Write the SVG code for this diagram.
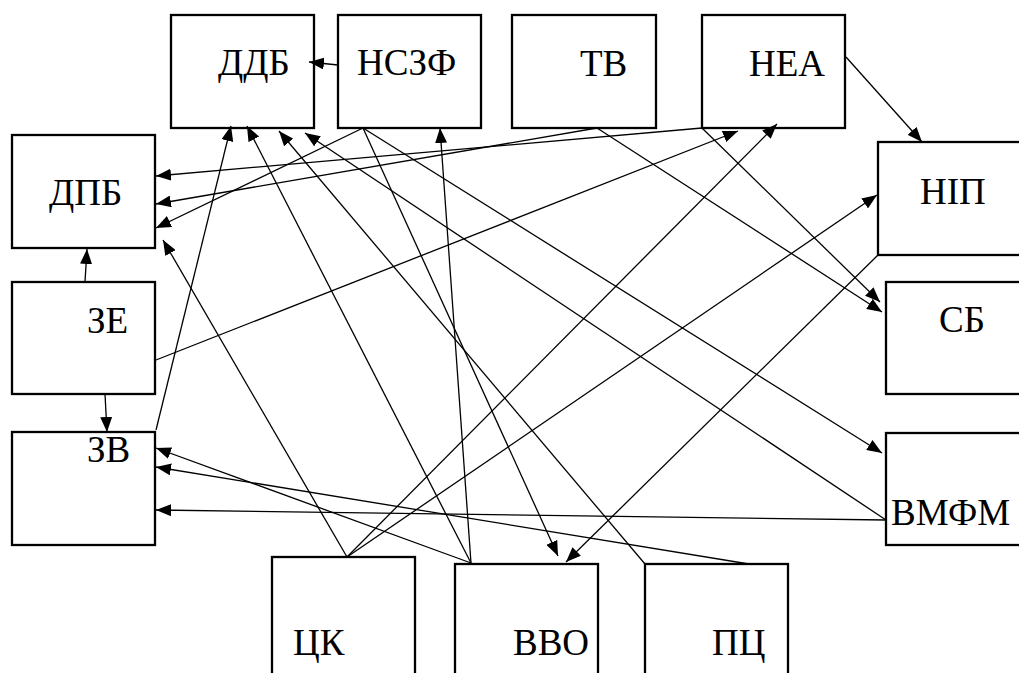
<svg xmlns="http://www.w3.org/2000/svg" width="1019" height="673" viewBox="0 0 1019 673">
<defs>
<style>
.box{fill:#fff;stroke:#000;stroke-width:2.3}
.edge{stroke:#000;stroke-width:1.3;fill:none;marker-end:url(#arr)}
</style>
<marker id="arr" markerUnits="userSpaceOnUse" markerWidth="16" markerHeight="12" refX="15" refY="6" orient="auto">
<path d="M0,0 L15,6 L0,12 z" fill="#000"/>
</marker>
</defs>
<rect width="1019" height="673" fill="#fff"/>
<g font-family="Liberation Serif, Times New Roman, DejaVu Serif, serif" font-size="37" fill="#000">
<g id="n-ddb"><rect class="box" x="171" y="15" width="143" height="113"/><text x="218" y="75">ДДБ</text></g>
<g id="n-nszf"><rect class="box" x="338" y="15" width="143" height="113"/><text x="357" y="75">НСЗФ</text></g>
<g id="n-tv"><rect class="box" x="512" y="15" width="144" height="113"/><text x="580" y="76">ТВ</text></g>
<g id="n-nea"><rect class="box" x="702" y="15" width="143" height="113"/><text x="749" y="76">НЕА</text></g>
<g id="n-dpb"><rect class="box" x="12" y="135" width="143" height="113"/><text x="49" y="205">ДПБ</text></g>
<g id="n-ze"><rect class="box" x="12" y="282" width="143" height="112"/><text x="87" y="333">ЗЕ</text></g>
<g id="n-zv"><rect class="box" x="12" y="432" width="143" height="113"/><text x="87" y="462">ЗВ</text></g>
<g id="n-nip"><rect class="box" x="878" y="142" width="143" height="113"/><text x="920" y="204">НІП</text></g>
<g id="n-sb"><rect class="box" x="886" y="282" width="143" height="112"/><text x="939" y="332">СБ</text></g>
<g id="n-vmfm"><rect class="box" x="886" y="433" width="143" height="112"/><text x="891" y="525">ВМФМ</text></g>
<g id="n-tsk"><rect class="box" x="272" y="557" width="143" height="130"/><text x="293" y="655">ЦК</text></g>
<g id="n-vvo"><rect class="box" x="455" y="564" width="143" height="130"/><text x="513" y="655">ВВО</text></g>
<g id="n-pts"><rect class="box" x="645" y="564" width="143" height="130"/><text x="712" y="655">ПЦ</text></g>
</g>
<g id="connectors">
<line class="edge" x1="338" y1="65" x2="309" y2="62"/>
<line class="edge" x1="156" y1="430" x2="231" y2="126"/>
<line class="edge" x1="471" y1="563" x2="247" y2="126"/>
<line class="edge" x1="645" y1="564" x2="279" y2="131"/>
<line class="edge" x1="886" y1="520" x2="305" y2="133"/>
<line class="edge" x1="471" y1="563" x2="440" y2="128"/>
<line class="edge" x1="156" y1="360" x2="738" y2="131"/>
<line class="edge" x1="347" y1="557" x2="777" y2="124"/>
<line class="edge" x1="846" y1="57" x2="922" y2="142"/>
<line class="edge" x1="347" y1="557" x2="877" y2="195"/>
<line class="edge" x1="702" y1="128" x2="880" y2="302"/>
<line class="edge" x1="597" y1="128" x2="882" y2="312"/>
<line class="edge" x1="363" y1="128" x2="882" y2="453"/>
<line class="edge" x1="363" y1="128" x2="558" y2="556"/>
<line class="edge" x1="878" y1="255" x2="566" y2="562"/>
<line class="edge" x1="702" y1="128" x2="156" y2="176"/>
<line class="edge" x1="597" y1="128" x2="156" y2="204"/>
<line class="edge" x1="363" y1="128" x2="156" y2="228"/>
<line class="edge" x1="347" y1="557" x2="163" y2="240"/>
<line class="edge" x1="85" y1="282" x2="87" y2="249"/>
<line class="edge" x1="105" y1="394" x2="107" y2="432"/>
<line class="edge" x1="471" y1="563" x2="156" y2="448"/>
<line class="edge" x1="749" y1="564" x2="156" y2="467"/>
<line class="edge" x1="886" y1="520" x2="156" y2="510"/>
</g>
</svg>
